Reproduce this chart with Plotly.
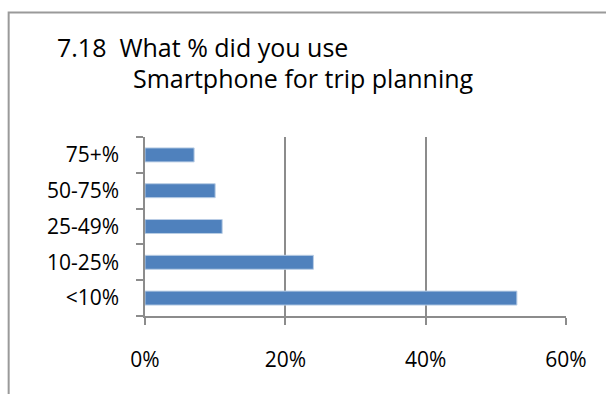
import plotly.graph_objects as go

# Survey answers, bottom to top
categories = ["<10%", "10-25%", "25-49%", "50-75%", "75+%"]
shares = [53, 24, 11, 10, 7]
x_ticks = [0, 20, 40, 60]
x_tick_labels = ["0%", "20%", "40%", "60%"]

W, H = 606, 394
ML, MR, MT, MB = 145, 39.5, 137, 78
PW, PH = W - ML - MR, H - MT - MB

def px_x(p):
    return (p - ML) / PW

def px_y(p):
    return 1 - (p - MT) / PH

FONT = "Open Sans"
GRID = "#8c8c8c"

fig = go.Figure(
    go.Bar(
        x=shares,
        y=categories,
        orientation="h",
        width=0.39,
        marker=dict(color="#4f81bd", line=dict(color="#b9cde5", width=1)),
        hoverinfo="x+y",
    )
)

fig.update_layout(
    width=W,
    height=H,
    margin=dict(l=ML, r=MR, t=MT, b=MB, pad=0),
    paper_bgcolor="white",
    plot_bgcolor="white",
    showlegend=False,
    font=dict(family=FONT, size=21, color="black"),
    xaxis=dict(
        range=[0, 60],
        tickvals=x_ticks,
        ticktext=x_tick_labels,
        showgrid=True,
        gridcolor=GRID,
        gridwidth=1.5,
        zeroline=False,
        showline=True,
        linecolor=GRID,
        linewidth=1.5,
        ticks="outside",
        ticklen=7,
        tickwidth=1.5,
        tickcolor=GRID,
        ticklabelstandoff=17,
        fixedrange=True,
    ),
    yaxis=dict(
        showgrid=False,
        zeroline=False,
        showline=True,
        linecolor=GRID,
        linewidth=1.5,
        ticks="outside",
        tickson="boundaries",
        ticklen=7,
        tickwidth=1.5,
        tickcolor=GRID,
        ticklabelstandoff=20,
        fixedrange=True,
    ),
    shapes=[
        dict(
            type="rect",
            xref="paper",
            yref="paper",
            x0=px_x(8.5),
            y0=px_y(H + 10),
            x1=px_x(W + 10),
            y1=px_y(12.5),
            line=dict(color="#9a9a9a", width=2),
            fillcolor="rgba(0,0,0,0)",
            layer="below",
        )
    ],
    annotations=[
        dict(
            text="7.18\u00a0 What % did you use",
            xref="paper",
            yref="paper",
            x=px_x(55),
            y=px_y(47),
            xanchor="left",
            yanchor="middle",
            showarrow=False,
            font=dict(family=FONT, size=25, color="black"),
        ),
        dict(
            text="Smartphone for trip planning",
            xref="paper",
            yref="paper",
            x=px_x(131),
            y=px_y(78),
            xanchor="left",
            yanchor="middle",
            showarrow=False,
            font=dict(family=FONT, size=25, color="black"),
        ),
    ],
)

fig.write_html("out.html")
